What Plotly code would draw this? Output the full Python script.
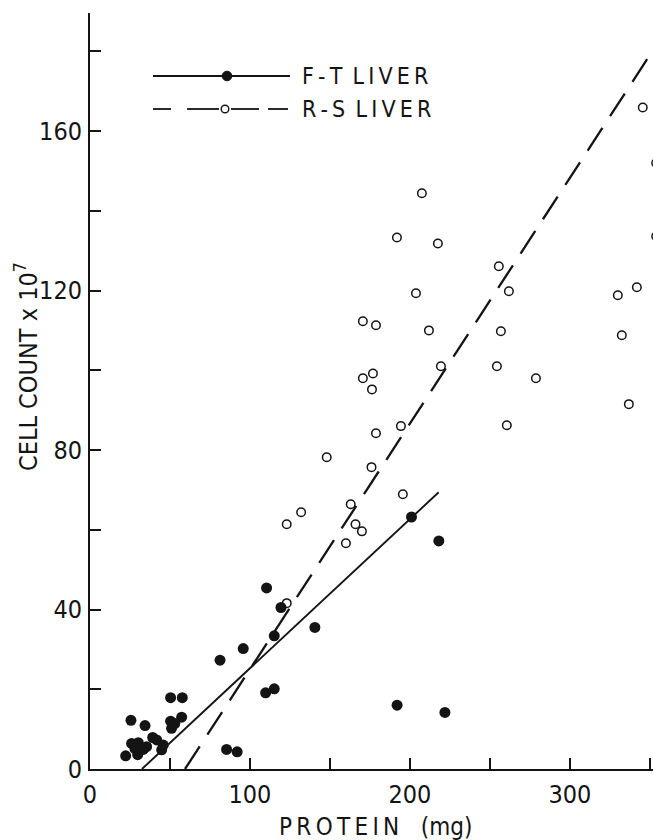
import plotly.graph_objects as go

# ---- data ----
# F-T liver (filled circles)
ft_x = [22.3, 25.6, 26.0, 28.1, 29.8, 30.2, 33.3, 34.4, 35.4, 39.2, 41.7, 44.8, 45.8,
        50.4, 57.7, 50.4, 51.0, 53.0, 57.3, 81.3, 95.8, 85.4, 92.0, 110.4, 119.4,
        115.2, 109.8, 115.2, 140.6, 201.0, 218.1, 192.0, 221.9]
ft_y = [3.3, 12.2, 6.4, 5.1, 3.6, 6.6, 4.9, 10.9, 5.6, 7.9, 7.3, 4.8, 6.0,
        17.9, 17.9, 12.0, 10.2, 11.4, 13.0, 27.3, 30.2, 4.9, 4.3, 45.4, 40.5,
        33.4, 19.1, 20.1, 35.5, 63.2, 57.2, 16.0, 14.2]

# R-S liver (open circles)
rs_x = [123.0, 123.0, 132.0, 148.0, 160.0, 163.0, 166.0, 170.0, 176.0, 178.8, 194.4,
        195.6, 170.6, 176.9, 176.3, 170.6, 178.8, 191.9, 203.8, 207.5, 211.9, 217.5,
        219.4, 254.4, 255.6, 256.9, 260.6, 261.9, 278.8, 330.0, 332.5, 336.9, 341.9,
        345.6, 354.0, 354.0]
rs_y = [41.6, 61.4, 64.4, 78.2, 56.6, 66.4, 61.4, 59.6, 75.7, 84.2, 86.0,
        68.9, 98.0, 99.2, 95.2, 112.3, 111.3, 133.3, 119.3, 144.4, 110.0, 131.8,
        101.0, 101.0, 126.1, 109.8, 86.2, 119.8, 98.0, 118.8, 108.8, 91.5, 120.8,
        165.9, 152.0, 133.6]

# fitted regression lines (end points)
ft_fit_x = [32.5, 218.0]
ft_fit_y = [0.0, 69.4]
rs_fit_x = [59.4, 360.0]
rs_fit_y = [0.0, 185.2]

x_ticks = [0, 100, 200, 300]
x_ticktext = ["0", "100", "200", "300"]
y_ticks = [0, 40, 80, 120, 160]
y_ticktext = ["0", "40", "80", "120", "160"]

TS = "\u2009"  # thin space used for the letter-spaced lettering
legend_labels = [TS.join("F-T") + "\u2002" + TS.join("LIVER"),
                 TS.join("R-S") + "\u2002" + TS.join("LIVER")]
x_title = TS.join("PROTEIN") + "\u2003(mg)"
y_title = "CELL COUNT x 10<sup>7</sup>"

INK = "#141414"
FONT = "Liberation Sans Narrow, DejaVu Sans Condensed, Roboto Condensed, Liberation Sans, sans-serif"

fig = go.Figure()
fig.add_trace(go.Scatter(x=rs_fit_x, y=rs_fit_y, mode="lines",
                         line=dict(color=INK, width=2.3, dash="27px,14px"),
                         showlegend=False, hoverinfo="skip"))
fig.add_trace(go.Scatter(x=ft_fit_x, y=ft_fit_y, mode="lines",
                         line=dict(color=INK, width=1.9),
                         showlegend=False, hoverinfo="skip"))
fig.add_trace(go.Scatter(x=rs_x, y=rs_y, mode="markers", name="R-S LIVER",
                         marker=dict(symbol="circle-open", size=8.5, color=INK,
                                     line=dict(width=1.5, color=INK)),
                         showlegend=False))
fig.add_trace(go.Scatter(x=ft_x, y=ft_y, mode="markers", name="F-T LIVER",
                         marker=dict(symbol="circle", size=11, color=INK),
                         showlegend=False))

# ---- pixel helpers for layout decorations (legend) ----
L, T, B, W, H = 90, 13, 71, 653, 840
PW, PH = W - L, H - T - B


def px(x):
    return (x - L) / PW


def py(y):
    return (H - B - y) / PH


shapes = []
# legend row 1 : solid line with filled dot
shapes.append(dict(type="line", xref="paper", yref="paper",
                   x0=px(153), x1=px(290), y0=py(76), y1=py(76),
                   line=dict(color=INK, width=1.8)))
shapes.append(dict(type="circle", xref="paper", yref="paper",
                   xsizemode="pixel", ysizemode="pixel",
                   xanchor=px(227), yanchor=py(76),
                   x0=-4.8, x1=4.8, y0=-4.8, y1=4.8,
                   fillcolor=INK, line=dict(color=INK, width=1)))
# legend row 2 : dashed line with open dot
for a, b in [(153, 171), (187, 219), (231, 259), (268, 288)]:
    shapes.append(dict(type="line", xref="paper", yref="paper",
                       x0=px(a), x1=px(b), y0=py(109), y1=py(109),
                       line=dict(color=INK, width=1.8)))
shapes.append(dict(type="circle", xref="paper", yref="paper",
                   xsizemode="pixel", ysizemode="pixel",
                   xanchor=px(225), yanchor=py(109),
                   x0=-3.8, x1=3.8, y0=-3.8, y1=3.8,
                   fillcolor="white", line=dict(color=INK, width=1.4)))

annotations = [
    dict(text=legend_labels[0], xref="paper", yref="paper", x=px(300), y=py(76),
         xanchor="left", yanchor="middle", showarrow=False,
         font=dict(family=FONT, size=23, color=INK)),
    dict(text=legend_labels[1], xref="paper", yref="paper", x=px(300), y=py(109),
         xanchor="left", yanchor="middle", showarrow=False,
         font=dict(family=FONT, size=23, color=INK)),
    dict(text=x_title, xref="paper", yref="paper", x=px(375), y=py(827),
         xanchor="center", yanchor="middle", showarrow=False,
         font=dict(family=FONT, size=24, color=INK)),
    dict(text=y_title, xref="paper", yref="paper",
         x=px(26), y=py(367), textangle=-90,
         xanchor="center", yanchor="middle", showarrow=False,
         font=dict(family=FONT, size=25, color=INK)),
]

axis_common = dict(showline=True, linecolor=INK, linewidth=2, mirror=False,
                   ticks="inside", ticklen=11, tickwidth=1.6, tickcolor=INK,
                   showgrid=False, zeroline=False,
                   tickfont=dict(family=FONT, size=25, color=INK))

fig.update_layout(
    width=W, height=H,
    margin=dict(l=L, r=0, t=T, b=B),
    paper_bgcolor="white", plot_bgcolor="white",
    showlegend=False,
    shapes=shapes, annotations=annotations,
    xaxis=dict(range=[0, 352], tickvals=x_ticks, ticktext=x_ticktext,
               ticklabelstandoff=2,
               minor=dict(tickvals=[50, 150, 250, 350], ticks="inside",
                          ticklen=11, tickwidth=1.6, tickcolor=INK, showgrid=False),
               **axis_common),
    yaxis=dict(range=[0, 189.6], tickvals=y_ticks, ticktext=y_ticktext,
               ticklabelstandoff=1,
               minor=dict(tickvals=[20, 60, 100, 140, 180], ticks="inside",
                          ticklen=11, tickwidth=1.6, tickcolor=INK, showgrid=False),
               **axis_common),
)

fig.write_html("out.html")
